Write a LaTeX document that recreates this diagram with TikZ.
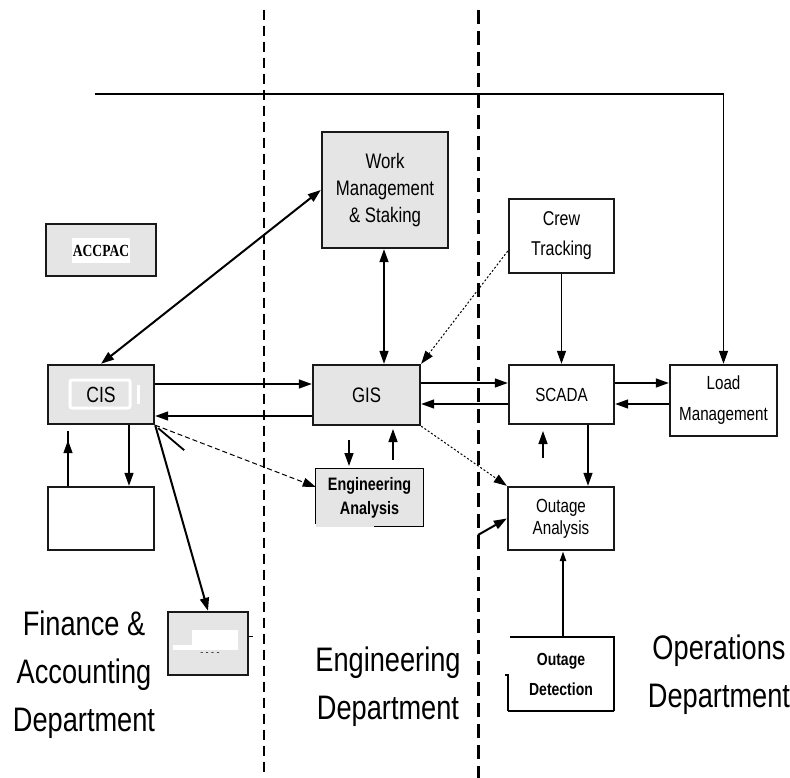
\documentclass[tikz,border=0pt]{standalone}
\usepackage{fontspec}
\setmainfont{Liberation Sans}
\newfontfamily\cf[FakeStretch=0.8]{Liberation Sans}
\newfontfamily\cfs[FakeStretch=0.8]{Liberation Serif}
\usetikzlibrary{arrows.meta,calc}
\begin{document}
\begin{tikzpicture}[x=1pt,y=-1pt,
  box/.style={draw=black!90, line width=2.4pt, rectangle, inner sep=0pt, align=center, font=\cf\fontsize{20}{27}\selectfont},
  gbox/.style={box, fill=black!10},
  wbox/.style={box, fill=white},
  tip/.style={-{Triangle[length=13pt,width=9pt]}},
  arr/.style={tip, line width=1.4pt},
  thickarr/.style={tip, line width=2pt},
  dblarr/.style={{Triangle[length=13pt,width=9pt]}-{Triangle[length=13pt,width=9pt]}, line width=2pt},
  dsharr/.style={tip, line width=1pt, dash pattern=on 5pt off 3pt},
  dotarr/.style={tip, line width=1pt, dash pattern=on 2pt off 2pt},
  divthin/.style={line width=1.3pt, dash pattern=on 10pt off 6pt},
  divthick/.style={line width=3pt, dash pattern=on 14pt off 7pt},
  dept/.style={anchor=north, inner sep=0pt, align=center, font=\cf\fontsize{34}{48}\selectfont}
]
\useasboundingbox (0,0) rectangle (790,778);
\fill[white] (0,0) rectangle (790,778);

% department dividers
\draw[divthin] (264,10) -- (264,778);
\draw[divthick] (478,10) -- (478,778);

% boxes
\node[gbox, minimum width=126, minimum height=116, font=\cf\fontsize{21}{27}\selectfont] (work) at (385,190) {Work\\Management\\\& Staking};
\node[gbox, minimum width=110, minimum height=52] (accpac) at (101,250) {};
\node[fill=white, minimum width=58, minimum height=25, inner sep=0pt, font=\cfs\bfseries\fontsize{17}{19}\selectfont] (accpaclbl) at (101,250.5) {ACCPAC};
\node[wbox, minimum width=105, minimum height=74, font=\cf\fontsize{20}{30}\selectfont] (crew) at (561.5,236) {Crew\\Tracking};

\node[gbox, minimum width=106, minimum height=59, font=\cf\fontsize{22}{24}\selectfont] (cis) at (101,394.5) {CIS};
\draw[white, line width=3pt, rounded corners=2pt] (70,380) rectangle (130,408);
\draw[white, line width=3pt] (138,385) -- (138,404);
\node[gbox, minimum width=107, minimum height=60, font=\cf\fontsize{21}{24}\selectfont] (gis) at (366.5,395) {GIS};
\node[wbox, minimum width=105, minimum height=59, font=\cf\fontsize{19}{24}\selectfont] (scada) at (561.5,394.5) {\raisebox{-6pt}{SCADA}};
\node[wbox, minimum width=107, minimum height=71, font=\cf\fontsize{19}{31}\selectfont] (load) at (723.5,400.5) {Load\\Management};

\node[wbox, minimum width=106, minimum height=63] (blank) at (101,518.5) {};
\node[fill=black!10, inner sep=0pt, minimum width=107, minimum height=58, align=center, font=\cf\bfseries\fontsize{18}{24}\selectfont] (eng) at (369.5,497.5) {Engineering\\Analysis};
\draw[line width=1.2pt] ([xshift=4.5pt]eng.south) -- (eng.south east) -- (eng.north east) -- (eng.north west) -- ([yshift=3pt]eng.south west);
\node[wbox, minimum width=106, minimum height=63, font=\cf\fontsize{19}{22}\selectfont] (outan) at (561,518.5) {Outage\\Analysis};
\node[fill=white, inner sep=0pt, minimum width=106, minimum height=74, align=center, font=\cf\bfseries\fontsize{17.5}{30}\selectfont] (outdet) at (561,674) {Outage\\Detection};
\draw[line width=1.6pt] ([xshift=2pt]outdet.north west) -- (outdet.north east) -- (outdet.south east);
\draw[line width=2.4pt] (outdet.south east) -- (outdet.south west);
\draw[line width=1.6pt] (outdet.south west) -- ([yshift=36pt]outdet.south west) -- +(-3,0);

\node[gbox, minimum width=80, minimum height=63] (dots) at (208,643.5) {};
\fill[white] (192,630) rectangle (238,650);
\fill[white] (173,645) rectangle (192,650);
\node[inner sep=0pt, font=\fontsize{9}{9}\selectfont] (dotslbl) at (210,654) {- - - -};
\draw[line width=1pt] ([yshift=7.5pt]dots.east) -- +(4,0);

% department labels
\node[dept] (fin) at (84,611) {Finance \&\\Accounting\\Department};
\node[dept] (engdept) at (388,647) {Engineering\\Department};
\node[dept] (opsdept) at (719,635) {Operations\\Department};

% connectors
\coordinate (tl) at (95,94);
\draw[arr] (tl) -| (load.north);
\draw[dblarr] (cis.north) -- (work.west);
\draw[arr, {Triangle[length=13pt,width=9pt]}-{Triangle[length=13pt,width=9pt]}] ([xshift=-1pt]work.south) coordinate (c8) -- (c8 |- gis.north);
\draw[arr] (crew.south) -- (scada.north);
\draw[dotarr] ([yshift=-15pt]crew.west) -- (gis.north east);

\draw[arr] ([yshift=10.5pt]cis.east) coordinate (c1) -- (c1 -| gis.west);
\draw[arr] ([yshift=-21pt]gis.west) coordinate (c2) -- (c2 -| cis.east);
\draw[arr] ([yshift=12pt]gis.east) coordinate (c3) -- (c3 -| scada.west);
\draw[arr] ([yshift=-9.5pt]scada.west) coordinate (c4) -- (c4 -| gis.east);
\draw[arr] ([yshift=11.5pt]scada.east) coordinate (c5) -- (c5 -| load.west);
\draw[arr] ([yshift=-3.5pt]load.west) coordinate (c6) -- (c6 -| scada.east);
\draw[arr] ([xshift=26.5pt]scada.south) coordinate (c7) -- (c7 |- outan.north);

\coordinate (s1a) at (543,458);
\coordinate (s1b) at (543,431);
\draw[arr] (s1a) -- (s1b);
\coordinate (g1a) at (349,440);
\coordinate (g1b) at (349,466);
\draw[arr] (g1a) -- (g1b);
\coordinate (g2a) at (393,460);
\coordinate (g2b) at (393,429);
\draw[arr] (g2a) -- (g2b);

\draw[dsharr] (cis.south east) -- ([yshift=10.5pt]eng.west);
\draw[line width=1.8pt] ([xshift=3pt,yshift=-3pt]cis.south east) -- +(26,22);
\draw[thickarr] (cis.south east) -- (dots.north);

\draw[line width=1.4pt] ([xshift=-33pt]blank.north) coordinate (c9) -- ($(c9 |- cis.south)+(0,6)$);
\draw[arr, shorten >=15pt] (c9) -- (c9 |- cis.south);
\draw[line width=1.4pt] ([xshift=28pt]cis.south) coordinate (c10) -- ($(c10)+(0,6)$);
\draw[arr] ($(c10)+(0,6)$) -- (c10 |- blank.north);

\draw[dotarr] (gis.south east) -- (outan.north west);
\coordinate (s3) at (478,535);
\draw[thickarr] (s3) -- (outan.west);
\draw[line width=2.2pt, -{Triangle[length=10pt,width=6pt]}] ([xshift=2pt]outdet.north) coordinate (c11) -- (c11 |- outan.south);
\end{tikzpicture}
\end{document}
